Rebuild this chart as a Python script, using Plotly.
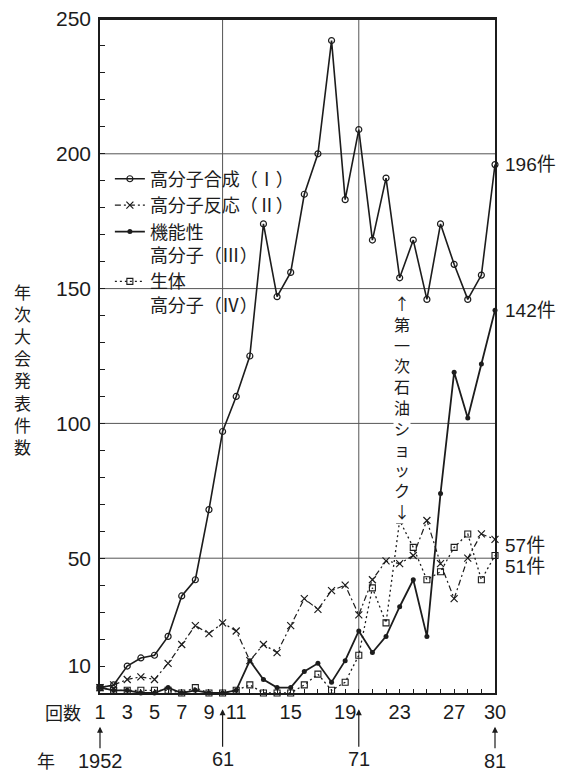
import plotly.graph_objects as go

sessions = list(range(1, 31))
synthesis_I = [2, 3, 10, 13, 14, 21, 36, 42, 68, 97, 110, 125, 174, 147, 156, 185, 200, 242, 183, 209,
               168, 191, 154, 168, 146, 174, 159, 146, 155, 196]
reaction_II = [2, 3, 5, 6, 5, 11, 18, 25, 22, 26, 23, 12, 18, 15, 25, 35, 31, 38, 40, 29,
               42, 49, 48, 51, 64, 48, 35, 50, 59, 57]
functional_III = [2, 1, 1, 0, 0, 2, 0, 1, 0, 0, 1, 12, 5, 2, 2, 8, 11, 4, 12, 23,
                  15, 21, 32, 42, 21, 74, 119, 102, 122, 142]
bio_IV = [2, 1, 1, 1, 1, 1, 0, 2, 0, 0, 1, 3, 0, 0, 0, 3, 7, 1, 4, 14,
          39, 26, 64, 54, 42, 45, 54, 59, 42, 51]

names = ["高分子合成（Ⅰ）", "高分子反応（Ⅱ）", "機能性<br>高分子（Ⅲ）", "生体<br>高分子（Ⅳ）"]
x_ticks = [1, 3, 5, 7, 9, 11, 15, 19, 23, 27, 30]
y_ticks = [10, 50, 100, 150, 200, 250]
grid_y = [50, 100, 150, 200]
grid_x = [10, 20]
frame_top = 250
year_marks = [(1, "1952"), (10, "61"), (20, "71"), (30, "81")]
end_labels = [(196, "196件", 0), (142, "142件", 0), (57, "57件", -6), (51, "51件", -11)]
shock_text = "↑第一次石油ショック↓"

INK = "#1c1c1c"
NUM_FONT = "Liberation Sans, Arial, Noto Sans CJK JP"
JP_FONT = "Noto Sans CJK JP, Liberation Sans"

fig = go.Figure()
fig.add_trace(go.Scatter(x=sessions, y=synthesis_I, name=names[0], mode="lines+markers",
                         line=dict(color=INK, width=1.6),
                         marker=dict(symbol="circle-open", size=6, color=INK, line=dict(width=1.2)),
                         cliponaxis=False))
fig.add_trace(go.Scatter(x=sessions, y=reaction_II, name=names[1], mode="lines+markers",
                         line=dict(color=INK, width=1.2, dash="6px,3px,2px,3px"),
                         marker=dict(symbol="x-thin-open", size=7, color=INK, line=dict(width=1.2, color=INK)),
                         cliponaxis=False))
fig.add_trace(go.Scatter(x=sessions, y=functional_III, name=names[2], mode="lines+markers",
                         line=dict(color=INK, width=1.8),
                         marker=dict(symbol="circle", size=5, color=INK),
                         cliponaxis=False))
fig.add_trace(go.Scatter(x=sessions, y=bio_IV, name=names[3], mode="lines+markers",
                         line=dict(color=INK, width=1.3, dash="2px,3px"),
                         marker=dict(symbol="square-open", size=6, color=INK, line=dict(width=1.1)),
                         cliponaxis=False))

shapes = []
for gy in grid_y:
    shapes.append(dict(type="line", xref="paper", yref="y", x0=0, x1=1, y0=gy, y1=gy,
                       line=dict(color="#555", width=1), layer="below"))
for gx in grid_x:
    shapes.append(dict(type="line", xref="x", yref="paper", x0=gx, x1=gx, y0=0, y1=1,
                       line=dict(color="#555", width=1), layer="below"))
# frame top edge
shapes.append(dict(type="line", xref="paper", yref="y", x0=0, x1=1, y0=frame_top, y1=frame_top,
                   line=dict(color=INK, width=2), layer="above"))

annotations = []
for yv, txt, ys in end_labels:
    annotations.append(dict(x=30, y=yv, xref="x", yref="y", text=txt, showarrow=False,
                            xanchor="left", yanchor="middle", xshift=8, yshift=ys,
                            font=dict(size=19, color=INK, family=NUM_FONT)))

# year row with arrows
for xv, txt in year_marks:
    tip = -0.05 if xv in (1, 30) else -0.024
    ay = 34 if xv in (1, 30) else 50
    annotations.append(dict(x=xv, y=tip, xref="x", yref="paper", text=txt, showarrow=True,
                            ax=0, ay=ay, arrowhead=2, arrowsize=1, arrowwidth=1.2, arrowcolor=INK,
                            standoff=0, startstandoff=0,
                            font=dict(size=20, color=INK, family=NUM_FONT)))
annotations.append(dict(x=-0.137, y=-0.1, xref="paper", yref="paper", text="年", showarrow=False,
                        xanchor="center", yanchor="middle",
                        font=dict(size=18, color=INK, family=JP_FONT)))
annotations.append(dict(x=-0.094, y=-0.028, xref="paper", yref="paper", text="回数", showarrow=False,
                        xanchor="center", yanchor="middle",
                        font=dict(size=18, color=INK, family=JP_FONT)))
# y-axis title, stacked vertically
annotations.append(dict(x=-0.195, y=0.48, xref="paper", yref="paper",
                        text="<br>".join("年次大会発表件数"), showarrow=False,
                        xanchor="center", yanchor="middle",
                        font=dict(size=17, color=INK, family=JP_FONT)))
# vertical oil shock text
annotations.append(dict(x=23.2, y=0.4236, xref="x", yref="paper",
                        text="<br>".join(shock_text), showarrow=False,
                        xanchor="center", yanchor="middle", bgcolor="white", borderpad=0,
                        font=dict(size=16, color=INK, family=JP_FONT)))

fig.update_layout(
    width=577, height=775,
    margin=dict(l=100, r=82, t=19, b=82, autoexpand=False),
    paper_bgcolor="white", plot_bgcolor="white",
    showlegend=True,
    legend=dict(x=0.025, y=0.79, xanchor="left", yanchor="top", bgcolor="rgba(0,0,0,0)",
                font=dict(size=18, color=INK, family=JP_FONT), valign="top",
                itemwidth=30, tracegroupgap=0),
    xaxis=dict(range=[1, 30], tickmode="array", tickvals=x_ticks, ticktext=[str(v) for v in x_ticks],
               showgrid=False, zeroline=False, showline=True, mirror=True, linecolor=INK, linewidth=1.5,
               ticks="inside", ticklen=4, tickcolor=INK, automargin=False, ticklabeloverflow="allow",
               minor=dict(tickmode="array", tickvals=sessions, ticks="inside", ticklen=4, tickcolor=INK, showgrid=False),
               tickfont=dict(size=20, color=INK, family=NUM_FONT)),
    yaxis=dict(range=[0, 250], tickmode="array", tickvals=y_ticks, ticktext=[str(v) for v in y_ticks],
               showgrid=False, zeroline=False, showline=True, mirror=True, linecolor=INK, linewidth=1.5,
               ticks="inside", ticklen=5, tickcolor=INK, ticklabelstandoff=3, automargin=False,
               ticklabeloverflow="allow",
               minor=dict(tickmode="array", tickvals=list(range(0, 251, 10)), ticks="inside", ticklen=5,
                          tickcolor=INK, showgrid=False),
               tickfont=dict(size=21, color=INK, family=NUM_FONT)),
    shapes=shapes,
    annotations=annotations,
)

fig.write_html("out.html", config={"displayModeBar": False},
               post_script="document.body.style.margin='0';document.body.style.overflow='hidden';")
